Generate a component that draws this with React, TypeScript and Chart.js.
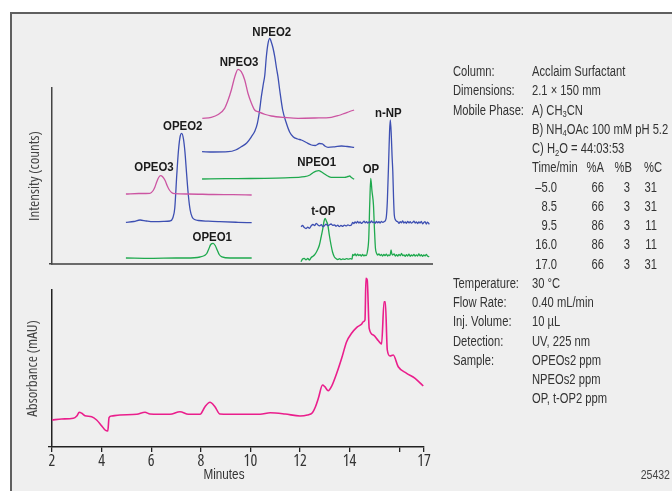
import React, { useEffect, useRef } from 'react';
import { Chart, registerables } from 'chart.js';

Chart.register(...registerables);

const CFONT = '"Open Sans", "DejaVu Sans Condensed", sans-serif'; // used with condensed stretch
const HFONT = '"Liberation Sans", Arial, sans-serif';

// ---- axis ----
const xTickValues = [2, 4, 6, 8, 10, 12, 14, 16, 17];
const xTickLabels = ['2', '4', '6', '8', '10', '12', '14', '', '17'];

// ---- upper panel: traces (minutes, intensity relative to own baseline) ----
const ope3: number[][] = [[4.98,0],[5.5,0.5],[5.95,0.7],[6.08,3.5],[6.15,7],[6.22,12],[6.30,16.5],[6.38,18.3],[6.46,17.2],[6.56,13.5],[6.64,8.5],[6.72,4.5],[6.82,1.5],[6.95,0.3],[7.5,0],[8.5,-0.5],[9.3,-0.7],[10.05,-1]];
const ope2: number[][] = [[4.98,-0.3],[5.3,0.5],[5.55,2],[5.8,1],[6.08,0.3],[6.5,0.6],[6.76,1],[6.87,4],[6.95,14],[7.03,47],[7.10,72],[7.17,86],[7.23,88.7],[7.30,83],[7.36,70],[7.43,47],[7.50,26],[7.57,12],[7.65,5],[7.75,2.5],[7.9,1.5],[8.3,0.8],[8.77,0.3],[9.5,-0.3],[10.05,-0.7]];
const ope1: number[][] = [[4.98,0],[6.0,-0.3],[7.0,0],[7.43,0],[7.97,1],[8.15,2.5],[8.24,4.5],[8.32,9],[8.40,13.5],[8.50,14.7],[8.58,12.5],[8.66,8],[8.74,3.5],[8.85,1.2],[9.18,0],[10.05,0]];
const npe3: number[][] = [[8.06,-0.3],[8.42,0.7],[8.7,3.5],[8.96,9.7],[9.1,18],[9.23,28],[9.37,41.3],[9.50,48.7],[9.63,46.3],[9.77,38],[9.90,24.7],[10.04,14.7],[10.17,8],[10.31,6.3],[10.6,3.5],[10.84,2],[11.4,0.5],[11.92,-0.3],[12.6,0],[13.26,0.7],[13.55,2.5],[13.80,4.7],[14.0,6.5],[14.18,8]];
const npe2: number[][] = [[8.05,0.3],[8.5,0],[9.10,0.3],[9.4,2],[9.63,5.3],[9.85,9],[10.04,15.3],[10.18,21],[10.28,28.7],[10.36,40],[10.44,55.3],[10.52,68],[10.58,77],[10.64,95],[10.71,108.7],[10.78,113.7],[10.84,110],[10.91,104],[10.98,95.3],[11.05,84],[11.11,75.3],[11.18,62],[11.30,42],[11.45,28.7],[11.58,20],[11.72,15.3],[11.9,13],[12.05,12],[12.25,9.5],[12.46,7],[12.62,6.5],[12.78,8.5],[12.9,8.2],[13.0,6],[13.13,4.7],[13.4,5.2],[13.67,6],[13.9,5.5],[14.18,4.7]];
const npe1: number[][] = [[8.05,0],[9.0,0.3],[10.0,0.5],[10.58,0.7],[11.4,1.2],[12.19,2.3],[12.40,4],[12.52,6.3],[12.65,7.8],[12.75,8.3],[12.87,7],[12.99,5],[13.12,3],[13.26,1.7],[13.55,1.7],[13.80,1.7],[13.93,2.5],[14.00,3],[14.07,1.5],[14.18,-0.3]];
const nnp: number[][] = [[12.04,-0.7],[12.10,0.5],[12.17,-1.5],[12.24,-2.5],[12.31,-1.2],[12.38,-2.3],[12.45,0.2],[12.52,1.5],[12.59,0.4],[12.65,2.7],[12.72,1.0],[12.79,0.2],[12.86,1.4],[12.92,-0.7],[12.99,0.5],[13.05,1.8],[13.12,0.3],[13.18,1.0],[13.25,2.0],[13.32,0.6],[13.39,1.2],[13.45,-0.2],[13.52,0.8],[13.58,-0.7],[13.65,0.5],[13.72,-0.3],[13.79,0.9],[13.86,0.1],[13.93,1.1],[14.00,0.4],[14.07,0.9],[14.12,3.7],[14.17,2.5],[14.22,4.2],[14.27,2.8],[14.32,4.6],[14.37,3.0],[14.42,4.0],[14.47,2.6],[14.53,3.7],[14.58,4.8],[14.63,3.1],[14.68,4.4],[14.73,2.9],[14.78,4.1],[14.83,3.3],[14.88,5.0],[14.93,3.4],[14.98,4.2],[15.03,2.8],[15.08,4.5],[15.13,3.2],[15.18,4.3],[15.23,3.0],[15.28,4.6],[15.33,3.7],[15.40,4.5],[15.47,7.7],[15.52,25],[15.58,71],[15.61,95],[15.64,106],[15.68,90],[15.71,70],[15.74,54.3],[15.77,28],[15.80,11],[15.85,6],[15.89,4.8],[15.94,4.3],[15.99,2.6],[16.04,4.4],[16.09,3.2],[16.14,5.2],[16.19,3.0],[16.24,4.1],[16.29,2.7],[16.34,4.6],[16.39,3.1],[16.44,4.3],[16.49,2.8],[16.54,3.7],[16.59,4.9],[16.64,3.0],[16.69,4.0],[16.74,2.5],[16.79,4.2],[16.84,2.9],[16.89,4.5],[16.94,2.2],[16.99,3.6],[17.04,4.3],[17.09,2.0],[17.14,3.9],[17.21,1.7]];
const op: number[][] = [[12.04,-2.7],[12.10,0],[12.17,0.7],[12.24,-0.8],[12.31,0.5],[12.38,-1],[12.45,1.5],[12.52,2.8],[12.58,4],[12.65,6.5],[12.72,10],[12.78,14],[12.85,22],[12.92,30.7],[12.97,38],[13.01,40.7],[13.06,38],[13.12,34],[13.18,24],[13.25,14],[13.31,7],[13.38,2.3],[13.45,0.5],[13.52,-0.5],[13.60,0.3],[13.66,-0.6],[13.72,0],[13.80,-0.4],[13.87,0.4],[13.95,-0.2],[14.03,0.3],[14.10,0],[14.12,4.7],[14.17,3.4],[14.22,5.0],[14.27,3.2],[14.32,4.8],[14.37,3.5],[14.42,4.4],[14.47,2.9],[14.52,4.6],[14.57,3.1],[14.62,4.0],[14.66,3.3],[14.72,8],[14.77,20.7],[14.81,55],[14.85,80.7],[14.90,68],[14.96,54],[15.00,30],[15.04,10.7],[15.09,5.5],[15.13,4],[15.18,5.0],[15.23,3.4],[15.28,4.6],[15.33,2.9],[15.38,4.5],[15.43,3.3],[15.48,4.9],[15.53,3.0],[15.58,4.2],[15.63,3.5],[15.67,9],[15.70,5.2],[15.74,4],[15.79,5.1],[15.84,3.0],[15.89,4.4],[15.94,2.8],[15.99,4.7],[16.04,3.2],[16.09,5.5],[16.14,3.3],[16.19,4.1],[16.24,2.6],[16.29,4.3],[16.34,3.0],[16.39,4.8],[16.44,2.7],[16.49,4.0],[16.54,3.1],[16.59,4.6],[16.64,2.8],[16.69,4.2],[16.74,3.0],[16.79,5.0],[16.84,3.1],[16.89,4.3],[16.94,2.6],[16.99,4.1],[17.04,3.0],[17.09,4.6],[17.14,2.9],[17.21,2.3]];

// stacking offsets of each trace (intensity units)
const traceNames = ['ope3', 'ope2', 'ope1', 'npe3', 'npe2', 'npe1', 'nnp', 'op'];
const traceData = [ope3, ope2, ope1, npe3, npe2, npe1, nnp, op];
const traceOffsets = [70, 42, 6, 146, 112, 85, 38, 5];

// peak labels (minutes, intensity level)
const peakNames = ['NPEO2', 'NPEO3', 'OPEO2', 'OPEO3', 'OPEO1', 'NPEO1', 'OP', 't-OP', 'n-NP'];
const peakTimes = [10.86, 9.54, 7.27, 6.11, 8.46, 12.67, 14.86, 12.94, 15.56];
const peakLevels = [232.3, 202.3, 138, 97.3, 26.7, 101.7, 94.7, 53, 150.7];

// ---- lower panel: UV absorbance ----
const absorbance: number[][] = [[2.0,27],[2.39,28],[2.86,28.7],[3.0,31],[3.1,34.7],[3.2,33.7],[3.33,31.3],[3.6,30.3],[3.8,27],[4.0,21.3],[4.14,17],[4.25,16],[4.30,29.3],[4.41,31],[4.74,32],[5.42,32.7],[5.75,34.7],[5.95,33],[6.76,32.7],[7.16,35.3],[7.50,32.7],[7.97,32.7],[8.17,40.3],[8.37,44.7],[8.57,40.3],[8.77,33],[9.58,32.7],[10.39,32.7],[10.8,34.2],[11.4,33],[12.0,31],[12.3,32],[12.5,34.3],[12.62,40],[12.74,48.7],[12.91,62],[13.0,60.3],[13.14,56.3],[13.28,61],[13.48,73.7],[13.68,88.7],[13.88,105.3],[14.08,113.7],[14.29,119.7],[14.49,123],[14.55,125.3],[14.62,127],[14.66,168.7],[14.71,167],[14.79,118.7],[14.96,112],[15.16,106.3],[15.29,103],[15.39,145.3],[15.44,145.3],[15.52,97],[15.63,91],[15.76,92],[15.96,80.3],[16.30,73.7],[16.64,68.7],[16.97,61]];

// ---- gradient table ----
const gradTimes = ['\u20135.0', '8.5', '9.5', '16.0', '17.0'];
const gradA = [66, 66, 86, 86, 66];
const gradB = [3, 3, 3, 3, 3];
const gradC = [31, 31, 11, 11, 31];

const traceColors: Record<string, string> = {
  ope3: '#cc55a2', npe3: '#cc55a2',
  ope2: '#3d4fb2', npe2: '#3d4fb2', nnp: '#3d4fb2',
  ope1: '#1fa94e', npe1: '#1fa94e', op: '#1fa94e',
};

const ROW0 = 62.2;
const ROWH = 19.24;
const TXT = '#333';
const SQ = 0.8;

function Line({ i, left, children, right }: { i: number; left: number; children: React.ReactNode; right?: boolean }) {
  const style: React.CSSProperties = {
    position: 'absolute', top: ROW0 + i * ROWH, height: ROWH, lineHeight: ROWH + 'px',
    fontFamily: HFONT, fontSize: 14, color: TXT, whiteSpace: 'nowrap',
    transform: `scaleX(${SQ})`,
  };
  if (right) {
    style.left = left - 80; style.width = 80; style.textAlign = 'right'; style.transformOrigin = 'right center';
  } else {
    style.left = left; style.transformOrigin = 'left center';
  }
  return <div style={style}>{children}</div>;
}

const Sub = ({ c }: { c: string }) => (
  <span style={{ fontSize: 9.5, position: 'relative', top: 2.5 }}>{c}</span>
);

export default function App() {
  const upRef = useRef<HTMLCanvasElement>(null);
  const lowRef = useRef<HTMLCanvasElement>(null);

  useEffect(() => {
    Chart.defaults.font.family = CFONT;
    const labelPlugin = {
      id: 'peakLabels',
      afterDatasetsDraw(chart: any) {
        const { ctx, scales } = chart;
        const k = 0.88;
        ctx.save();
        ctx.font = 'bold 13px ' + HFONT;
        ctx.fillStyle = '#1a1a1a';
        ctx.textAlign = 'center';
        ctx.textBaseline = 'middle';
        ctx.scale(k, 1);
        peakNames.forEach((n, i) => {
          ctx.fillText(n, scales.x.getPixelForValue(peakTimes[i]) / k, scales.y.getPixelForValue(peakLevels[i]) + 0.5);
        });
        ctx.restore();
      },
    };

    const upper = new Chart(upRef.current!, {
      type: 'line',
      data: {
        datasets: traceNames.map((name, k) => ({
          label: name,
          data: traceData[k].map(([x, y]) => ({ x, y: y + traceOffsets[k] })),
          borderColor: traceColors[name],
          borderWidth: 1.3,
          pointRadius: 0,
          fill: false,
          clip: false as any,
          cubicInterpolationMode: 'monotone' as const,
        })),
      },
      options: {
        responsive: false,
        animation: false,
        events: [],
        layout: { padding: { left: 0, top: 88, right: 240, bottom: 0 } },
        plugins: { legend: { display: false }, tooltip: { enabled: false } },
        scales: {
          x: {
            type: 'linear', min: 2, max: 17.32,
            ticks: { display: false },
            grid: { display: false, drawTicks: false },
            border: { display: true, color: '#6a6a6a', width: 2 },
            afterFit: (s: any) => { s.height = 6; },
          },
          y: {
            type: 'linear', min: 0, max: 176,
            ticks: { display: false },
            afterBuildTicks: (s: any) => { s.ticks = [{ value: 0 }]; },
            grid: { display: true, drawOnChartArea: false, drawTicks: true, tickLength: 3, color: '#444', lineWidth: 1.5 },
            border: { display: true, color: '#444', width: 1.5 },
            title: { display: true, text: 'Intensity (counts)', color: '#444', font: { family: CFONT, size: 15, weight: 'condensed' }, padding: { top: 26, bottom: 0 } },
            afterFit: (s: any) => { s.width = 52; },
          },
        },
      } as any,
      plugins: [labelPlugin],
    });

    const lower = new Chart(lowRef.current!, {
      type: 'line',
      data: {
        datasets: [{
          label: 'Absorbance',
          data: absorbance.map(([x, y]) => ({ x, y })),
          borderColor: '#ea1e8c',
          borderWidth: 1.6,
          pointRadius: 0,
          fill: false,
          clip: false as any,
          cubicInterpolationMode: 'monotone' as const,
        }],
      },
      options: {
        responsive: false,
        animation: false,
        events: [],
        layout: { padding: { left: 0, top: 20, right: 248, bottom: 0 } },
        plugins: { legend: { display: false }, tooltip: { enabled: false } },
        scales: {
          x: {
            type: 'linear', min: 2, max: 17,
            afterBuildTicks: (s: any) => { s.ticks = xTickValues.map((v) => ({ value: v })); },
            ticks: {
              callback: (_v: any, i: number) => xTickLabels[i],
              font: { family: CFONT, size: 16, weight: 'condensed' }, color: '#333', padding: 0,
              maxRotation: 0, autoSkip: false,
            },
            grid: { display: true, drawOnChartArea: false, drawTicks: true, tickLength: 5, color: '#222', lineWidth: 1.3 },
            border: { display: true, color: '#222', width: 1.5 },
            afterFit: (s: any) => { s.height = 44; },
          },
          y: {
            type: 'linear', min: 0, max: 157,
            ticks: { display: false },
            afterBuildTicks: (s: any) => { s.ticks = [{ value: 0 }]; },
            grid: { display: true, drawOnChartArea: false, drawTicks: true, tickLength: 4, color: '#222', lineWidth: 1.3 },
            border: { display: true, color: '#222', width: 1.5 },
            title: { display: true, text: 'Absorbance (mAU)', color: '#444', font: { family: CFONT, size: 15, weight: 'condensed' }, padding: { top: 24, bottom: 0 } },
            afterFit: (s: any) => { s.width = 52; },
          },
        },
      } as any,
    });

    return () => { upper.destroy(); lower.destroy(); };
  }, []);

  const L = 453;
  const V = 531.5;
  return (
    <div style={{ position: 'fixed', left: 0, top: 0, width: 672, height: 491, overflow: 'hidden', background: '#ffffff' }}>
      <div style={{ position: 'absolute', left: 10, top: 12, width: 700, height: 500, background: '#efefef', borderLeft: '2px solid #5f5f5f', borderTop: '2px solid #5f5f5f' }} />
      <canvas ref={upRef} width={672} height={270} style={{ position: 'absolute', left: 0, top: 0, width: 672, height: 270 }} />
      <canvas ref={lowRef} width={672} height={221} style={{ position: 'absolute', left: 0, top: 270, width: 672, height: 221 }} />
      <div style={{ position: 'absolute', left: 174, width: 100, textAlign: 'center', top: 465, fontFamily: HFONT, fontSize: 15, color: TXT, lineHeight: '18px', transform: 'scaleX(0.78)', transformOrigin: 'center' }}>Minutes</div>

      <Line i={0} left={L}>Column:</Line>
      <Line i={0} left={V}>Acclaim Surfactant</Line>
      <Line i={1} left={L}>Dimensions:</Line>
      <Line i={1} left={V}>2.1 × 150 mm</Line>
      <Line i={2} left={L}>Mobile Phase:</Line>
      <Line i={2} left={V}>A) CH<Sub c="3" />CN</Line>
      <Line i={3} left={V}>B) NH<Sub c="4" />OAc 100 mM pH 5.2</Line>
      <Line i={4} left={V}>C) H<Sub c="2" />O = 44:03:53</Line>
      <Line i={5} left={V}>Time/min</Line>
      <Line i={5} left={604} right>%A</Line>
      <Line i={5} left={632} right>%B</Line>
      <Line i={5} left={662} right>%C</Line>
      {gradTimes.map((t, k) => (
        <React.Fragment key={k}>
          <Line i={6 + k} left={557} right>{t}</Line>
          <Line i={6 + k} left={604} right>{gradA[k]}</Line>
          <Line i={6 + k} left={630} right>{gradB[k]}</Line>
          <Line i={6 + k} left={657} right>{gradC[k]}</Line>
        </React.Fragment>
      ))}
      <Line i={11} left={L}>Temperature:</Line>
      <Line i={11} left={V}>30 °C</Line>
      <Line i={12} left={L}>Flow Rate:</Line>
      <Line i={12} left={V}>0.40 mL/min</Line>
      <Line i={13} left={L}>Inj. Volume:</Line>
      <Line i={13} left={V}>10 µL</Line>
      <Line i={14} left={L}>Detection:</Line>
      <Line i={14} left={V}>UV, 225 nm</Line>
      <Line i={15} left={L}>Sample:</Line>
      <Line i={15} left={V}>OPEOs2 ppm</Line>
      <Line i={16} left={V}>NPEOs2 ppm</Line>
      <Line i={17} left={V}>OP, t-OP2 ppm</Line>

      <div style={{ position: 'absolute', left: 590, width: 80, textAlign: 'right', top: 468, fontFamily: HFONT, fontSize: 12, lineHeight: '14px', color: '#444', transform: 'scaleX(0.88)', transformOrigin: 'right center' }}>25432</div>
    </div>
  );
}
